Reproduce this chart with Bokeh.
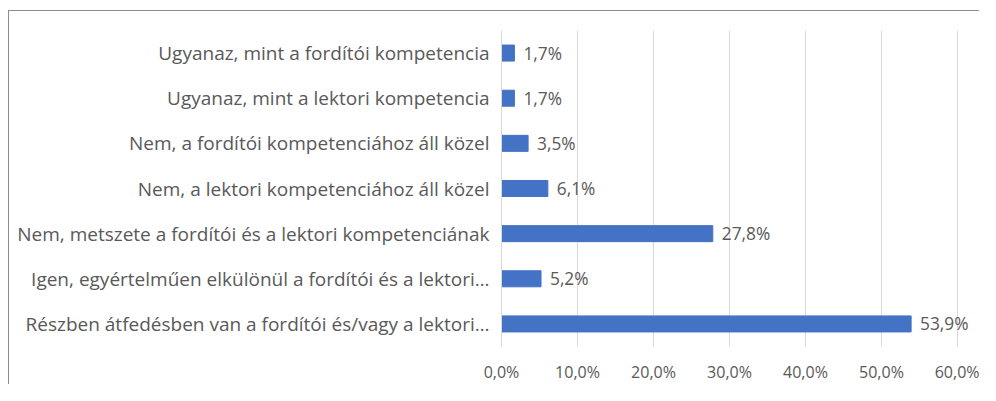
from bokeh.plotting import figure
from bokeh.models import ColumnDataSource, FactorRange, Range1d, FixedTicker, CustomJSTickFormatter, LabelSet
from bokeh.embed import file_html
from bokeh.resources import INLINE
from bokeh.core.properties import value

categories = [
    "Ugyanaz, mint a fordítói kompetencia",
    "Ugyanaz, mint a lektori kompetencia",
    "Nem, a fordítói kompetenciához áll közel",
    "Nem, a lektori kompetenciához áll közel",
    "Nem, metszete a fordítói és a lektori kompetenciának",
    "Igen, egyértelműen elkülönül a fordítói és a lektori…",
    "Részben átfedésben van a fordítói és/vagy a lektori…",
]
values = [1.7, 1.7, 3.5, 6.1, 27.8, 5.2, 53.9]
x_ticks = [0, 10, 20, 30, 40, 50, 60]

FONT = "Open Sans"
GRAY = "#595959"

labels = [("%.1f" % v).replace(".", ",") + "%" for v in values]
src = ColumnDataSource(dict(cat=categories, val=values, lab=labels))

p = figure(
    width=971, height=374,
    y_range=FactorRange(factors=list(reversed(categories)), range_padding=0),
    x_range=Range1d(0, 63.03),
    output_backend="svg", toolbar_location=None,
    min_border_left=492, min_border_right=0, min_border_top=19, min_border_bottom=39,
)
p.styles = {"margin-left": "8px", "margin-top": "10px",
            "border-top": "1px solid #8c8c8c", "border-left": "1px solid #8c8c8c"}

p.hbar(y="cat", right="val", left=0, height=0.355, source=src,
       fill_color="#4472C4", line_color="#4472C4")

p.add_layout(LabelSet(x="val", y="cat", text="lab", source=src, x_offset=9,
                      text_baseline="middle", text_align="left",
                      text_font=value(FONT), text_font_size="17.3px", text_color=GRAY))

p.outline_line_color = None
p.background_fill_color = "white"
p.border_fill_color = "white"

p.xaxis.ticker = FixedTicker(ticks=x_ticks)
p.xaxis.formatter = CustomJSTickFormatter(code="return tick.toFixed(1).replace('.', ',') + '%';")
p.xaxis.axis_line_color = None
p.xaxis.major_tick_line_color = None
p.xaxis.minor_tick_line_color = None
p.xaxis.major_label_standoff = 8
p.xaxis.major_label_text_font = FONT
p.xaxis.major_label_text_font_size = "16px"
p.xaxis.major_label_text_color = GRAY

p.yaxis.axis_line_color = "#d9d9d9"
p.yaxis.major_tick_line_color = None
p.yaxis.minor_tick_line_color = None
p.yaxis.major_label_standoff = 6
p.yaxis.major_label_text_font = FONT
p.yaxis.major_label_text_font_size = "19px"
p.yaxis.major_label_text_color = GRAY

p.xgrid.grid_line_color = "#d9d9d9"
p.xgrid.grid_line_width = 1
p.ygrid.grid_line_color = None

open("out.html", "w").write(file_html(p, INLINE))
